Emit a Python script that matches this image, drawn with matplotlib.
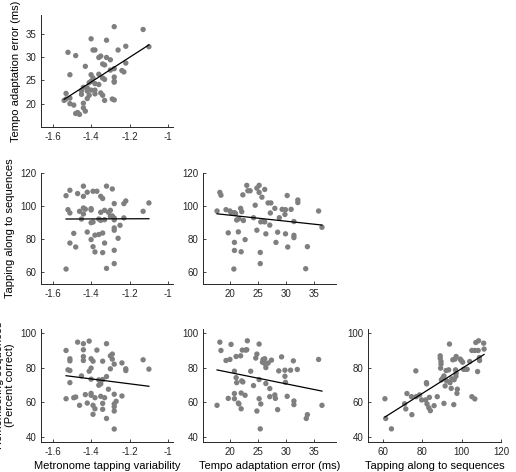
import numpy as np
import matplotlib
matplotlib.use('Agg')
import matplotlib.pyplot as plt

plt.rcParams['font.family'] = ['Liberation Sans', 'DejaVu Sans']
plt.rcParams['axes.unicode_minus'] = False

# metronome variability vs tempo adaptation error
x1 = [-1.28,-1.13,-1.40,-1.32,-1.10,-1.22,-1.26,-1.52,-1.39,-1.38,-1.48,-1.36,-1.35,-1.32,-1.30,-1.43,-1.34,-1.33,-1.22,-1.28,
      -1.30,-1.24,-1.23,-1.51,-1.40,-1.36,-1.39,-1.34,-1.33,-1.28,-1.28,-1.28,-1.40,-1.41,-1.38,-1.36,-1.44,-1.42,-1.45,-1.42,
      -1.40,-1.38,-1.35,-1.45,-1.41,-1.53,-1.38,-1.34,-1.42,-1.53,-1.51,-1.54,-1.29,-1.28,-1.33,-1.51,-1.49,-1.44,-1.44,-1.47,
      -1.46,-1.43,-1.48]
y1 = [36.5,35.9,33.9,33.6,32.2,32.3,31.5,31.0,31.5,31.5,30.3,29.9,30.2,29.9,29.4,28.0,28.5,28.3,28.7,27.5,
      27.2,27.1,26.8,26.2,26.2,26.3,25.5,25.5,25.2,25.7,24.8,24.6,24.8,24.5,24.3,24.1,23.5,23.4,22.8,22.7,
      22.9,22.9,22.3,22.0,21.8,22.2,22.1,21.8,21.1,21.0,21.2,20.7,21.0,20.8,20.7,20.0,19.7,20.1,19.1,18.1,
      17.7,18.4,17.9]

# metronome variability vs tapping along
x2 = [-1.53,-1.53,-1.51,-1.47,-1.44,-1.44,-1.42,-1.39,-1.37,-1.35,-1.34,-1.32,-1.29,-1.52,-1.51,-1.46,-1.44,-1.43,-1.44,-1.40,
      -1.40,-1.45,-1.40,-1.39,-1.36,-1.35,-1.33,-1.31,-1.30,-1.29,-1.28,-1.28,-1.28,-1.35,-1.33,-1.30,-1.28,-1.28,-1.25,-1.23,
      -1.22,-1.23,-1.13,-1.10,-1.49,-1.42,-1.38,-1.36,-1.34,-1.26,-1.51,-1.48,-1.40,-1.39,-1.33,-1.38,-1.34,-1.28,-1.28,-1.32]
y2 = [61.6,106.2,109.5,107.5,112,105.8,108.3,108.9,108.9,105.8,104.5,112,110.3,97.7,95.7,96.7,98.7,98.0,95.1,98.3,
      97.5,92.0,89.8,90.2,92,96.1,97.3,96.1,97.3,93.9,101.4,91.5,92.6,91.2,91.6,93.7,86.6,85.2,88.2,101.4,
      103,92.7,96.7,101.8,83.3,84.1,82.2,82.6,83.5,80.3,77.4,75.0,79.5,75.2,77.4,72,71.6,73,64.9,62]

# tempo adaptation error vs tapping along
x3 = [17.7,18.2,18.4,19.3,20.0,20.2,19.7,20.8,21.0,20.8,20.8,20.7,21.5,21.9,22.1,21.2,21.6,22.4,22.0,22.3,
      22.7,23.0,23.2,23.6,24.2,24.5,24.8,25.2,25.2,24.8,25.5,26.0,26.2,25.7,26.2,25.4,25.4,26.4,26.8,27.3,
      27.2,27.1,28.0,28.2,28.5,28.8,29.3,29.9,29.8,29.9,30.2,30.3,30.9,31.4,31.4,31.4,32.1,32.1,33.8,33.5,
      35.8,36.4]
y3 = [96.9,108.2,106.5,97.7,96.9,96.0,83.6,95.9,95.3,77.8,72.9,61.6,84.2,98.5,96.5,91.4,92.2,91.1,72.1,106.7,
      79.5,112.5,109.2,109.2,92.8,100.4,110.8,112.5,108.2,85.2,90.3,90.5,90.3,105.3,110.0,71.7,64.9,83.0,101.8,101.8,
      95.7,88.3,98.5,77.8,84.0,92.8,97.9,97.7,94.8,83.0,106.3,75.0,97.9,90.5,82.1,80.7,103.6,102.0,75.2,61.8,
      96.9,87.0]

# metronome variability vs remembering
x4 = [-1.53,-1.51,-1.51,-1.47,-1.44,-1.41,-1.44,-1.44,-1.44,-1.37,-1.40,-1.39,-1.34,-1.32,-1.30,-1.29,-1.29,-1.28,-1.24,-1.22,
      -1.22,-1.13,-1.10,-1.52,-1.51,-1.51,-1.41,-1.40,-1.45,-1.40,-1.36,-1.35,-1.34,-1.32,-1.35,-1.36,-1.30,-1.31,-1.53,-1.49,
      -1.48,-1.43,-1.40,-1.40,-1.38,-1.35,-1.33,-1.28,-1.24,-1.27,-1.46,-1.42,-1.39,-1.38,-1.34,-1.34,-1.28,-1.28,-1.28,-1.39,
      -1.32,-1.28]
y4 = [89.9,85.1,83.9,94.7,93.8,95.3,90.3,86.4,84.1,90.1,85.1,83.7,83.7,93.8,86.8,87.8,84.9,82.0,82.7,79.3,
      78.3,84.5,79.1,78.7,78.3,71.3,77.9,79.7,75.2,73.3,72.9,72.1,73.1,74.8,70.6,69.8,79.3,67.5,62.0,62.6,
      63.0,64.4,65.1,64.0,62.6,63.4,62.6,64.6,63.6,60.5,58.2,59.5,58.2,56.2,59.3,55.9,59.0,57.4,54.9,53.0,
      50.6,44.5]

# tempo adaptation error vs remembering
x5 = [17.7,18.2,18.4,19.3,20.0,19.7,20.2,20.8,21.1,21.1,21.2,20.8,20.8,21.5,21.6,21.9,22.2,22.1,22.3,22.0,
      22.0,22.8,23.0,23.1,22.7,23.7,24.2,24.8,24.6,25.2,25.2,24.8,25.2,25.5,25.4,25.9,26.2,26.2,26.4,25.8,
      26.4,26.8,27.4,27.1,27.1,28.0,28.1,28.5,28.7,29.2,29.8,29.8,29.9,30.2,30.8,31.3,31.4,31.4,32.0,33.6,
      33.8,35.8,36.4]
y5 = [58.2,94.7,89.9,84.1,84.7,62.2,93.4,77.9,86.4,74.2,71.3,65.0,62.0,59.5,59.0,86.8,90.1,72.3,71.7,65.3,
      56.2,90.1,90.3,95.5,64.0,77.9,69.6,87.8,85.5,93.6,73.1,54.9,62.0,59.0,44.6,84.7,85.1,82.4,80.0,83.1,
      70.8,82.6,84.3,67.9,63.2,64.2,62.2,55.7,78.1,86.2,78.5,75.0,71.5,63.4,78.5,83.9,60.7,58.6,78.9,50.6,
      52.8,84.7,58.2]

# tapping along vs remembering
x6 = [61.0,61.4,64.3,72.2,71.0,71.6,74.5,74.7,76.7,76.9,78.6,79.7,82.1,82.2,81.7,82.4,83.3,84.1,83.6,86.0,
      87.6,89.1,89.1,89.5,89.5,89.3,89.7,90.3,91.0,91.6,91.0,92.1,93.4,92.4,93.8,94.1,94.7,95.0,95.5,96.6,
      96.0,97.2,96.9,97.2,97.1,96.2,97.8,97.6,99.3,99.8,100.5,101.0,101.9,102.8,104.1,105.2,106.7,105.2,106.7,107.2,
      108.6,108.1,108.4,109.0,109.1,111.2,111.4]
y6 = [62.0,50.6,44.6,65.0,59.1,56.1,63.2,52.8,78.1,63.2,64.2,61.3,71.3,70.6,61.3,59.0,56.8,55.1,62.8,58.0,
      63.2,86.8,85.4,83.5,82.0,79.7,72.9,73.8,75.2,69.4,59.3,78.3,78.7,72.3,93.6,71.3,68.0,73.5,84.5,84.9,
      58.6,86.4,78.7,76.8,75.0,73.0,67.5,65.1,84.9,84.1,83.1,79.0,79.0,79.0,83.5,63.2,61.9,89.9,89.9,94.5,
      95.5,77.7,89.9,85.8,84.1,94.1,90.7]

mtv_ticks = [-1.6, -1.4, -1.2, -1]
mtv_labels = ['-1.6', '-1.4', '-1.2', '-1']
tae_ticks = [20, 25, 30, 35]
tap_ticks = [60, 80, 100, 120]
rem_ticks = [40, 60, 80, 100]

fig = plt.figure(figsize=(5.16, 4.72), dpi=100)

W = 516.0
H = 472.0
cols = [(41, 132), (203, 133), (368, 133)]
rows = [(15, 112), (173, 111), (329, 113)]

def make_ax(r, c):
    l, w = cols[c]
    t, h = rows[r]
    ax = fig.add_axes([l / W, 1 - (t + h) / H, w / W, h / H])
    for s in ['top', 'right']:
        ax.spines[s].set_visible(False)
    for s in ['left', 'bottom']:
        ax.spines[s].set_color('#262626')
        ax.spines[s].set_linewidth(0.7)
    ax.tick_params(direction='in', length=2.5, width=0.6, labelsize=7, colors='#262626', pad=3.5)
    return ax

def panel(ax, x, y):
    x = np.array(x)
    y = np.array(y)
    ax.scatter(x, y, s=15, color='#7f7f7f', edgecolors='none', zorder=2)
    p = np.polyfit(x, y, 1)
    xx = np.array([x.min(), x.max()])
    ax.plot(xx, np.polyval(p, xx), color='black', lw=0.9, zorder=3)

ax = make_ax(0, 0)
panel(ax, x1, y1)
ax.set_xlim(-1.66, -0.975)
ax.set_ylim(15, 39)
ax.set_xticks(mtv_ticks)
ax.set_xticklabels(mtv_labels)
ax.set_yticks(tae_ticks)
ax.set_ylabel('Tempo adaptation error (ms)', fontsize=8)
ax.yaxis.set_label_coords(-0.15, 0.5)

ax = make_ax(1, 0)
panel(ax, x2, y2)
ax.set_xlim(-1.66, -0.975)
ax.set_ylim(52.5, 120)
ax.set_xticks(mtv_ticks)
ax.set_xticklabels(mtv_labels)
ax.set_yticks(tap_ticks)
ax.set_ylabel('Tapping along to sequences', fontsize=8)
ax.yaxis.set_label_coords(-0.195, 0.5)

ax = make_ax(1, 1)
panel(ax, x3, y3)
ax.set_xlim(15.2, 38.9)
ax.set_ylim(52.5, 120)
ax.set_xticks(tae_ticks)
ax.set_yticks(tap_ticks)

ax = make_ax(2, 0)
panel(ax, x4, y4)
ax.set_xlim(-1.66, -0.975)
ax.set_ylim(37, 102.3)
ax.set_xticks(mtv_ticks)
ax.set_xticklabels(mtv_labels)
ax.set_yticks(rem_ticks)
ax.set_ylabel('Remembering sequences\n(Percent correct)', fontsize=8, linespacing=1.1)
ax.yaxis.set_label_coords(-0.195, 0.5)
ax.set_xlabel('Metronome tapping variability', fontsize=8, labelpad=3)

ax = make_ax(2, 1)
panel(ax, x5, y5)
ax.set_xlim(15.2, 38.9)
ax.set_ylim(37, 102.3)
ax.set_xticks(tae_ticks)
ax.set_yticks(rem_ticks)
ax.set_xlabel('Tempo adaptation error (ms)', fontsize=8, labelpad=3)

ax = make_ax(2, 2)
panel(ax, x6, y6)
ax.set_xlim(52.4, 120)
ax.set_ylim(37, 102.3)
ax.set_xticks(tap_ticks)
ax.set_yticks(rem_ticks)
ax.set_xlabel('Tapping along to sequences', fontsize=8, labelpad=3)

fig.savefig('out.png', dpi=100)
